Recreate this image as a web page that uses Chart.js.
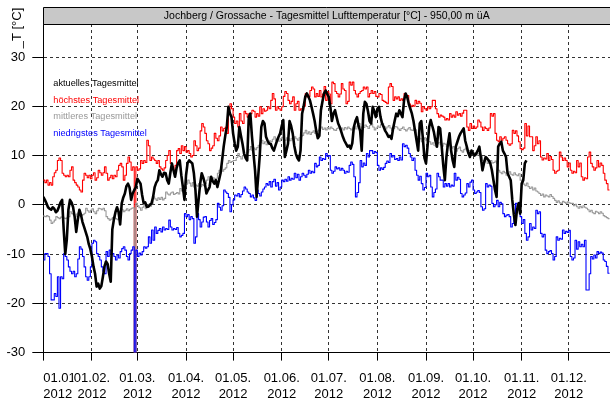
<!DOCTYPE html>
<html>
<head>
<meta charset="utf-8">
<script src="https://cdn.jsdelivr.net/npm/chart.js@4.4.0/dist/chart.umd.min.js"></script>
<style>
  html, body { margin: 0; padding: 0; background: #fff; }
  canvas { display: block; }
</style>
</head>
<body>
<canvas id="c" width="610" height="403"></canvas>
<script>
// Station daily mean air temperature, 2012 (day 0 = 01.01.2012)
const TITLE = 'Jochberg / Grossache - Tagesmittel Lufttemperatur [°C] - 950,00 m üA';
const Y_TITLE = '_T [°C]';
const MONTH_START_DAYS = [0, 31, 60, 91, 121, 152, 182, 213, 244, 274, 305, 335];
const MONTH_LABELS = [
  ['01.01.', '2012'], ['01.02.', '2012'], ['01.03.', '2012'], ['01.04.', '2012'],
  ['01.05.', '2012'], ['01.06.', '2012'], ['01.07.', '2012'], ['01.08.', '2012'],
  ['01.09.', '2012'], ['01.10.', '2012'], ['01.11.', '2012'], ['01.12.', '2012']
];
const Y_TICKS = [-30, -20, -10, 0, 10, 20, 30];
const SERIES_NAMES = ['aktuelles Tagesmittel', 'höchstes Tagesmittel', 'mittleres Tagesmittel', 'niedrigstes Tagesmittel'];
const SERIES_COLORS = ['#000000', '#ff0000', '#999999', '#0000ff'];

// current year, one value per day (01.01. - 04.11.)
const aktuell = [
  // Jan
  1.6, 1.0, 0.3, -0.5, -0.8, -1.0, -0.5, -0.8, -1.5, -1.2,
  -0.4, 0.5, 1.0, -5, -10, -7, -1, 1.0, 0.5, -0.5,
  -2.5, -5.5, -3, -1, -2, -3.5, -4.5, -5.5, -6.5, -8,
  -9,
  // Feb
  -10.5, -12.5, -14, -16.6, -16, -17, -16.5, -14.6, -12.5,
  -11.5, -12, -14, -15.6, -5, -3, -1.5, -0.5, -1.5, -4,
  0.3, 1.5, 2.3, 3.8, 4.3, 3.5, 1.0, 2.3, 3.0, 3.6,
  // Mar
  5.3, 4.8, 4.3, 2, 0.3, 0.5, -0.4, -0.4, 0, 0.3,
  1.6, 3.6, 4.5, 5.0, 7.0, 6.2, 5.7, 6.5, 6.4, 5.0,
  4.3, 6.5, 8.4, 7, 5.7, 7.5, 8.5, 9.0, 6, 3.6,
  1.0,
  // Apr
  6, 8.5, 9, 8.7, 8.4, 6.4, 3, -2.4, 1,
  4.3, 6.4, 5.5, 4.3, 2.3, 3, 3.6, 5.7, 4.8, 4.3,
  5, 3.6, 5, 6.4, 9, 11.8, 14, 15.8, 19.9, 18.5,
  17.8,
  // May
  14.5, 12.5, 11, 11.8, 15.8, 14, 12.4, 10.4, 9.5,
  9, 17.8, 18.5, 14, 10.4, 7, 1.6, 5.7, 10, 15.8,
  17, 16.5, 13.8, 13, 12.4, 12.4, 11.5, 11, 12, 13,
  13.8, 14.5,
  // Jun
  16, 17.2, 9.7, 11, 12.4, 17, 16, 14.5,
  12, 10.4, 9.5, 9, 11, 18.5, 20, 21.9, 22.6, 22,
  21.2, 19.9, 18.5, 17, 15, 13.5, 14, 19.2, 21, 22.6,
  23.2, 22.5,
  // Jul
  21.9, 19.9, 17, 18.5, 19.2, 17.8, 16.5, 15.8,
  14.8, 13.8, 13, 12.4, 11.8, 12, 11.4, 12.5, 15.8, 17,
  17.8, 16, 15, 11, 18.5, 20.9, 20.5, 19, 17, 16.5,
  19.9, 19, 17.8,
  // Aug
  19.5, 19.9, 17.8, 16.5, 15.8, 15, 14.5,
  13.8, 14, 13.4, 15.5, 17, 18.5, 18, 19.2, 18.5, 17.8,
  21.2, 22.6, 21.9, 20.5, 19.5, 18.5, 17, 15, 13, 11,
  16.5, 17, 13.5, 9.5,
  // Sep
  8.4, 12, 15.8, 17.2, 16, 14.8,
  13, 11.8, 15.8, 15.5, 11.8, 8, 5, 9.7, 12.4, 14.5,
  11, 9, 7.7, 11.8, 12.8, 13.8, 14.5, 15, 15.5, 13,
  11.8, 10.5, 9.7, 11,
  // Oct
  10.4, 10, 10.4, 11, 11.8, 9.5,
  7, 8.5, 9.7, 9.4, 9, 8.4, 7, 5, 3, 1.6,
  11.8, 12.4, 12.8, 11, 10.4, 9.7, 6.4, 5.7, 5, 1,
  -2, -4.1, -1, 0.3, -1.8,
  // Nov
  4.3, 5, 8.4, 9
];

// long-term highest daily mean
const hoechst = [
  // Jan
  5, 5, 4.5, 5, 4, 4.5, 4, 5.7, 6.5, 7,
  9, 9.5, 9, 6.4, 6, 5.7, 6, 5.7, 7, 7.7,
  5, 4.5, 4, 3.6, 3, 2.6, 5, 6.4, 6, 5.5,
  6,
  // Feb
  5.3, 6, 6.5, 5, 5.5, 7, 6.5, 6, 6.5,
  7.7, 6.4, 5, 5.5, 6, 5.3, 6, 5.7, 7, 8,
  8.4, 7.7, 5, 6, 8.4, 9.7, 8.7, 7, 7.7, -35,
  // Mar
  7.7, 7, 7.3, 9, 8.4, 9, 8.6, 13.1, 12, 9,
  9.7, 9.3, 9, 8.4, 9, 7.7, 7.3, 7, 7.5, 9,
  10, 11, 8.4, 7.7, 7, 8, 11, 11.4, 10.4, 12,
  11,
  // Apr
  11.8, 10.7, 11, 10.4, 9.7, 10, 13, 12, 11,
  11.5, 15, 16.5, 15.8, 14.5, 13, 12.4, 11, 11.5, 12,
  14.5, 13.5, 13, 14, 15.8, 15, 15.5, 15.8, 14.5, 19.2,
  20.5,
  // May
  19.5, 17.8, 16.5, 17, 15.8, 18.5, 17, 16.5, 19,
  18.5, 17.8, 18.5, 18.5, 19.2, 19, 17.8, 18.5, 18, 19.9,
  18.5, 19.5, 19, 19.2, 19.9, 19.5, 21.2, 22.6, 21.5, 19.2,
  19.9, 19.5,
  // Jun
  19.2, 19.9, 22, 23, 22.6, 21.2, 20.5, 21,
  21.9, 19.2, 20.5, 21, 19.2, 19.5, 19.2, 20, 22.6, 21.9,
  22, 23.2, 23.9, 23.5, 21.9, 22.6, 22, 23.2, 21.9, 22.5,
  24, 21.2,
  // Jul
  23, 22.5, 20.5, 24.9, 24.6, 23, 22.6, 21.9,
  22.5, 24.6, 23.5, 23.2, 20.5, 21, 24.9, 24.3, 24.9, 23.2,
  22.5, 21.9, 22.6, 23, 23.2, 23.9, 23.5, 23.9, 21.9, 22.6,
  23.2, 22.6, 23,
  // Aug
  22, 21.9, 22.6, 22.4, 21.2, 21, 20.8,
  20.5, 23.9, 24.6, 24, 21.2, 21.9, 21.5, 21.9, 21.2, 21.5,
  21.2, 22.6, 21.9, 22.2, 20.5, 19.9, 20.2, 20, 21.2, 20.5,
  21, 20.6, 18.9, 19.9,
  // Sep
  19.5, 19.2, 19.9, 19.5, 19.9, 21.2,
  21.2, 19.5, 18.5, 17.8, 18.2, 18, 17.8, 17.2, 17.5, 17.2,
  18.5, 17.8, 18.2, 17.8, 18.9, 18.2, 18.5, 18, 18.6, 19.2,
  19.2, 15.8, 15.1, 16.5,
  // Oct
  15.5, 16, 15.5, 15.8, 17.2, 16.8,
  15.8, 15.1, 15.8, 15.5, 15.1, 15.6, 18.5, 18, 18.5, 14.5,
  13.1, 12.8, 13.8, 13.1, 13.5, 13.8, 13.1, 12.4, 12.1, 12.4,
  15.1, 14.5, 15, 14, 12.8,
  // Nov
  11.4, 11.2, 11.5, 16.5, 14, 16, 13.8, 13.8, 11, 12,
  13.8, 12.4, 13, 9.7, 9.1, 9.5, 9.3, 10.4, 9, 9.8,
  9.2, 7, 6.4, 6.8, 7, 10.7, 9.7, 9, 9.5, 9,
  // Dec
  7.7, 8.5, 7, 6.4, 6.8, 6.5, 9, 7.7, 8.5, 5.7,
  5, 5.5, 5.3, 9.7, 10.7, 8.4, 7.7, 7, 7.5, 9,
  7.7, 8.5, 8, 6.4, 5, 4.3, 3
];

// long-term mean daily mean
const mittel = [
  // Jan
  -2.1, -2.3, -2.4, -2.2, -2.4, -3.1, -3.8, -3.5, -3.1, -2.4,
  -2.6, -2.8, -2.5, -2.4, -2.7, -2.8, -2.6, -2.4, -1.4, -1.8,
  -2.0, -2.4, -1.9, -1.6, -1.8, -2.2, -2.0, -1.7, -0.7, -1.2,
  -1.5,
  // Feb
  -1.1, -0.8, -1.4, -1.8, -1.2, -0.7, -0.8, -1.0, -0.7,
  -1.2, -2.4, -2.8, -3.1, -2.9, -2.6, -2.4, -2.8, -3.0, -2.5,
  -0.7, -1.0, -1.4, -1.1, -0.8, -1.2, -0.9, -0.7, -0.6, -35,
  // Mar
  0.3, -0.2, -0.6, -1.1, -0.5, -0.2, -0.8, -0.4, 0.1, -0.3,
  0.2, 1.6, 1.2, 0.9, 1.4, 1.1, 1.5, 1.0, 1.3, 2.6,
  2.2, 2.0, 2.4, 2.6, 2.1, 2.3, 2.5, 2.2, 3.3, 2.8,
  2.6,
  // Apr
  3.6, 4.2, 5.0, 4.4, 3.8, 4.5, 3.6, 4.0, 3.8,
  4.3, 3.7, 4.1, 3.9, 4.3, 5.0, 5.7, 4.8, 5.3, 5.5,
  4.9, 5.4, 6.4, 7.0, 7.7, 6.8, 7.2, 7.5, 8.4, 9.0,
  8.6,
  // May
  8.8, 9.0, 9.0, 9.6, 10.4, 9.8, 9.3, 10.0, 10.2,
  9.6, 10.7, 11.2, 11.8, 11.0, 11.5, 11.2, 11.6, 12.1, 12.6,
  13.1, 12.4, 12.8, 12.2, 12.7, 13.0, 12.8, 13.3, 13.8, 13.1,
  13.5, 12.9,
  // Jun
  13.4, 13.7, 13.2, 13.1, 13.6, 13.4, 13.0, 13.5,
  13.2, 13.8, 13.4, 13.1, 13.6, 13.9, 14.1, 14.6, 15.1, 14.4,
  14.8, 14.3, 14.7, 15.0, 14.5, 14.9, 15.1, 15.5, 15.8, 15.3,
  15.6, 15.2,
  // Jul
  15.7, 15.4, 15.8, 15.5, 15.2, 15.1, 15.5, 15.8,
  15.3, 15.6, 15.2, 15.7, 15.4, 15.8, 15.5, 15.2, 15.6, 15.9,
  15.4, 16.0, 16.5, 15.8, 15.3, 15.7, 16.2, 15.9, 15.5, 16.1,
  16.4, 15.8, 15.2,
  // Aug
  15.6, 16.0, 15.7, 16.3, 16.5, 15.9, 15.4,
  15.8, 16.1, 15.6, 15.1, 15.5, 15.9, 15.8, 15.4, 15.1, 15.5,
  15.8, 15.3, 15.0, 15.4, 15.7, 15.2, 15.1, 15.5, 15.2, 13.8,
  13.2, 13.5, 12.8, 13.3,
  // Sep
  13.6, 13.0, 12.9, 12.8, 12.3, 12.6,
  12.1, 11.8, 12.4, 12.7, 12.2, 11.9, 12.5, 12.3, 11.8, 12.0,
  12.1, 11.5, 11.8, 11.2, 10.9, 11.4, 11.7, 11.0, 10.7, 11.2,
  11.5, 10.9, 11.0, 10.4,
  // Oct
  10.8, 10.2, 10.6, 10.0, 10.4, 10.1,
  9.8, 9.0, 8.7, 9.2, 8.4, 8.8, 9.0, 8.5, 8.6, 8.9,
  8.4, 7.0, 6.6, 6.3, 6.8, 6.5, 6.0, 6.4, 6.7, 6.2,
  6.0, 6.5, 6.1, 5.9, 6.3,
  // Nov
  5.0, 4.6, 4.2, 3.9, 4.4, 3.7, 3.3, 3.6, 3.0, 3.4,
  2.8, 2.6, 2.3, 1.9, 2.2, 1.6, 2.0, 1.8, 1.6, 2.1,
  1.7, 1.3, 0.9, 0.5, 0.8, 0.4, 0.3, 0.7, 0.5, 0.3,
  // Dec
  0.6, 0.4, 0.3, 0.3, -0.2, 0.1, -0.4, -0.7, -0.3, -0.6,
  -0.2, -0.5, -0.7, -1.0, -1.4, -1.1, -1.6, -1.8, -1.3, -1.5,
  -1.8, -1.4, -1.7, -2.2, -2.4, -2.6, -2.8
];

// long-term lowest daily mean
const niedrigst = [
  // Jan
  -11.2, -11.2, -9.9, -9.9, -10.5, -14, -19.3, -19.3, -18, -18.6,
  -14.6, -21, -14.6, -15, -9.9, -10.5, -11.2, -12.6, -13.5, -14,
  -13.5, -14.6, -14, -11, -8.5, -9, -10.5, -12.6, -14.6, -15.3,
  -14.6,
  // Feb
  -12.6, -7.8, -7.2, -7.5, -9.9, -10.5, -11.2, -12.6, -13.5,
  -14, -9.5, -10.5, -9.2, -10, -9.9, -10.5, -11.2, -10.2, -10.8,
  -9.5, -8.9, -8.5, -9.2, -10.5, -11.2, -9.9, -9.2, -8.5, -35,
  // Mar
  -9.2, -10.5, -9.8, -10.2, -9.5, -8.5, -8.8, -8.5, -6.5, -7.8,
  -5.1, -7.2, -4.5, -5.8, -5.2, -4.8, -5.5, -4.5, -5.1, -4.8,
  -5, -3.1, -4.5, -5.1, -4.8, -5, -4.6, -5.8, -6.5, -6.2,
  -5.8,
  // Apr
  -1.8, -2.4, -2, -3, -2.4, -2.8, -7.8, -6.5, -1.8,
  -3, -4.5, -3.5, -2.5, -2.4, -3.5, -4.5, -3.2, -2.8, -4,
  -3.6, -3, 0.3, -0.5, -1.1, -0.2, 3, 2.6, 2.3, 1.5,
  -1.4,
  // May
  0, 1, 2, 1.8, 2.3, 1.6, 2.1, 2.8, 3.6,
  3.2, 2.6, 2.3, 1.6, 2, 1.4, 0.9, 3, 2.3, 1.8,
  2.6, 3.2, 3.6, 4.3, 4, 4.7, 3.6, 4.7, 5.2, 3.8,
  4.5, 3,
  // Jun
  3.6, 5, 4.7, 5.2, 4.8, 5.7, 5, 5.4,
  5.2, 6.4, 5.5, 6.2, 5.0, 5.7, 6.4, 6.0, 5.6, 6.2,
  7, 6.4, 6.8, 6.5, 8.4, 7.7, 8, 9.7, 9, 9.4,
  9.2, 10.4,
  // Jul
  9.8, 10, 7, 6.4, 6.8, 7.7, 7.3, 7.5,
  7, 7.4, 7, 6.4, 6.8, 6.6, 8, 8.7, 8.2, 5.7,
  1.6, 2.5, 4.5, 9, 7.7, 8.5, 8, 10.4, 9.7, 11,
  11, 10.4, 10.8,
  // Aug
  10.6, 8, 7, 7.5, 7.2, 7.6, 8.4,
  8.9, 8.6, 10.4, 9.7, 10, 9.2, 9.4, 9, 9.7, 9.1,
  12.4, 11.8, 12.1, 11.5, 10.4, 9.7, 9, 9.5, 7, 6,
  5, 5.8, 4.3, 3,
  // Sep
  3.5, 6.4, 5.7, 6, 3.6, 1.6,
  2.5, 3.2, 6.4, 5.7, 5, 5, 3.6, 4.3, 3.8, 4.3,
  3.6, 4, 3.8, 6.4, 5, 5.6, 5.2, 2.3, 1.6, 2,
  2.4, 4.3, 3.6, 4.6,
  // Oct
  5, 3, 2.3, 2.6, 2.9, 2.5,
  -0.4, -1.1, -0.8, 4.3, 3.6, 4, 3.8, 0.3, -0.4, 0,
  0.9, -0.4, 0.5, 0.2, -1.8, -2.4, -2.1, -2, -2.4, -4.5,
  -3.8, -2.8, 0.3, -0.4, 0.5,
  // Nov
  -2.4, -3.8, -3, -5.8, -7.2, -6.5, -3.8, -5.1, -4.5, -4.8,
  -1.1, -1.8, -1.4, -5.8, -6.5, -6, -9.2, -9.9, -9.5, -9.3,
  -9.9, -11.2, -10.5, -6.5, -7.2, -6.8, -7, -5.1, -5.8, -5.4,
  // Dec
  -5.6, -5.2, -10.5, -11.2, -10.8, -7.2, -9, -7.5, -8.5, -8,
  -8.5, -7.2, -17.3, -17.3, -14, -10.5, -11, -10.2, -10.8, -9.5,
  -9.9, -9.6, -9.8, -11.2, -11.5, -12.5, -13.9
];

const FONT = '"Liberation Sans", Arial, Helvetica, sans-serif';
const toPoints = arr => arr.map((v, i) => ({ x: i, y: v }));

// title bar, axis title, series names and two-line date labels
const decorations = {
  id: 'decorations',
  afterDraw(chart) {
    const { ctx, chartArea: a } = chart;
    const xs = chart.scales.x;
    ctx.save();

    // title bar above the plot
    const barTop = 7.5, barBottom = Math.round(a.top) + 0.5, barLeft = Math.round(a.left) + 0.5;
    ctx.fillStyle = '#c8c8c8';
    ctx.fillRect(barLeft, barTop, chart.width - barLeft, barBottom - barTop);
    ctx.strokeStyle = '#000';
    ctx.lineWidth = 1;
    ctx.beginPath();
    ctx.moveTo(chart.width, barTop); ctx.lineTo(barLeft, barTop); ctx.lineTo(barLeft, barBottom);
    ctx.moveTo(barLeft, barBottom); ctx.lineTo(chart.width, barBottom);
    ctx.stroke();
    ctx.fillStyle = '#000';
    ctx.font = '10.5px ' + FONT;
    ctx.textAlign = 'center';
    ctx.textBaseline = 'middle';
    ctx.fillText(TITLE, (barLeft + chart.width) / 2, (barTop + barBottom) / 2 + 0.5);

    // rotated axis title
    ctx.save();
    ctx.translate(20.5, 28);
    ctx.rotate(-Math.PI / 2);
    ctx.font = '13px ' + FONT;
    ctx.textAlign = 'center';
    ctx.textBaseline = 'alphabetic';
    ctx.fillText(Y_TITLE, 0, 0);
    ctx.restore();

    // series names in the upper left corner
    ctx.font = '9.2px ' + FONT;
    ctx.textAlign = 'left';
    ctx.textBaseline = 'alphabetic';
    SERIES_NAMES.forEach((name, i) => {
      ctx.fillStyle = SERIES_COLORS[i];
      ctx.fillText(name, a.left + 10, 86 + i * 16.6);
    });

    // date labels below the month ticks
    ctx.font = '13px ' + FONT;
    ctx.textBaseline = 'middle';
    MONTH_START_DAYS.forEach((day, i) => {
      const px = xs.getPixelForValue(day);
      MONTH_LABELS[i].forEach((line, j) => {
        const w = ctx.measureText(line).width;
        const left = i === 0 ? px : px - w / 2;
        const cy = 378 + j * 16.5;
        ctx.fillStyle = '#fff';
        ctx.fillRect(left - 0.5, cy - 7, w + 1, 14);
        ctx.fillStyle = '#000';
        ctx.textAlign = 'left';
        ctx.fillText(line, left, cy);
      });
    });
    ctx.restore();
  }
};

const lineBase = { pointRadius: 0, pointHoverRadius: 0, fill: false, tension: 0, borderJoinStyle: 'round' };

new Chart(document.getElementById('c'), {
  type: 'line',
  data: {
    datasets: [
      Object.assign({}, lineBase, { label: SERIES_NAMES[0], data: toPoints(aktuell), borderColor: SERIES_COLORS[0], borderWidth: 2.6, order: 0 }),
      Object.assign({}, lineBase, { label: SERIES_NAMES[1], data: toPoints(hoechst), borderColor: SERIES_COLORS[1], borderWidth: 1.1, stepped: 'after', order: 3 }),
      Object.assign({}, lineBase, { label: SERIES_NAMES[2], data: toPoints(mittel), borderColor: SERIES_COLORS[2], borderWidth: 1.1, stepped: 'after', order: 2 }),
      Object.assign({}, lineBase, { label: SERIES_NAMES[3], data: toPoints(niedrigst), borderColor: SERIES_COLORS[3], borderWidth: 1.1, stepped: 'after', order: 1 })
    ]
  },
  options: {
    responsive: false,
    animation: false,
    devicePixelRatio: 1,
    parsing: false,
    events: [],
    layout: { padding: { top: 24, left: 0, right: 0, bottom: 0 } },
    plugins: { legend: { display: false }, tooltip: { enabled: false }, title: { display: false } },
    scales: {
      x: {
        type: 'linear',
        min: 0,
        max: 361.3,
        afterBuildTicks: s => { s.ticks = MONTH_START_DAYS.map(v => ({ value: v })); },
        afterFit: s => { s.height = 50.4; },
        ticks: { display: false },
        grid: { color: '#333', lineWidth: 1, drawTicks: true, tickLength: 8, tickColor: '#000', tickWidth: 1 },
        border: { display: true, color: '#000', width: 1, dash: [3, 3] }
      },
      y: {
        type: 'linear',
        min: -30,
        max: 36.7,
        afterBuildTicks: s => { s.ticks = Y_TICKS.map(v => ({ value: v })); },
        afterFit: s => { s.width = 43.3; },
        ticks: { color: '#000', font: { family: FONT, size: 13 }, padding: 7, callback: v => String(v) },
        grid: { color: '#333', lineWidth: 1, drawTicks: true, tickLength: 11, tickColor: '#000', tickWidth: 1 },
        border: { display: true, color: '#000', width: 1, dash: [3, 3] }
      }
    }
  },
  plugins: [decorations]
});
</script>
</body>
</html>
